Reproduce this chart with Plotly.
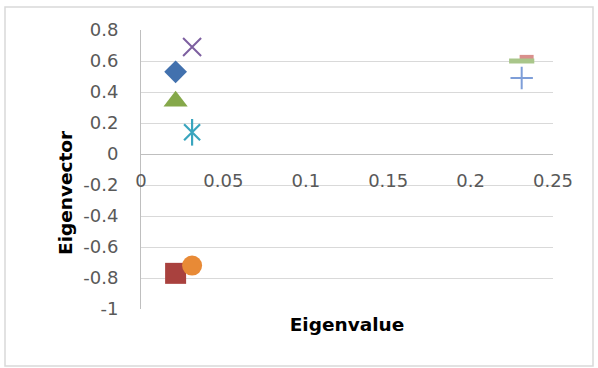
import plotly.graph_objects as go

# ---- data ----
series_names = ["S1", "S2", "S3", "S4", "S5", "S6", "S7", "S8", "S9"]
eigenvalues = [0.021, 0.021, 0.021, 0.031, 0.031, 0.031, 0.231, 0.234, 0.231]
eigenvectors = [0.53, -0.77, 0.34, 0.69, 0.14, -0.72, 0.49, 0.625, 0.60]

x_tick_vals = [0, 0.05, 0.1, 0.15, 0.2, 0.25]
x_tick_text = ["0", "0.05", "0.1", "0.15", "0.2", "0.25"]
y_tick_vals = [-1, -0.8, -0.6, -0.4, -0.2, 0, 0.2, 0.4, 0.6, 0.8]
y_tick_text = ["-1", "-0.8", "-0.6", "-0.4", "-0.2", "0", "0.2", "0.4", "0.6", "0.8"]

x_title = "Eigenvalue"
y_title = "Eigenvector"

# ---- styles ----
styles = [
    dict(symbol="diamond", size=17.5, color="#4271AE", line=None),
    dict(symbol="square", size=21, color="#A9413E", line=None),
    dict(symbol="triangle-up", size=21, color="#85A84A", line=None),
    dict(symbol="x-thin", size=18, color="#7D5FA0", line=2),
    dict(symbol="x-thin", size=16, color="#3AA5BE", line=2.2),   # star part 1
    dict(symbol="circle", size=20, color="#E88A36", line=None),
    dict(symbol="cross-thin", size=16, color="#7E9ED8", line=2),
    dict(symbol="line-ew", size=10, color="#D9908C", line=4.5),
    dict(symbol="line-ew", size=18, color="#A9C68A", line=5),
]

fig = go.Figure()
for i, name in enumerate(series_names):
    st = styles[i]
    if st["line"] is None:
        marker = dict(symbol=st["symbol"], size=st["size"], color=st["color"],
                      line=dict(width=0))
    else:
        marker = dict(symbol=st["symbol"], size=st["size"], color=st["color"],
                      line=dict(width=st["line"], color=st["color"]))
    fig.add_trace(go.Scatter(x=[eigenvalues[i]], y=[eigenvectors[i]], mode="markers",
                             name=name, marker=marker, showlegend=False))
    if i == 4:
        # vertical stroke of the asterisk (same series)
        fig.add_trace(go.Scatter(x=[eigenvalues[i]], y=[eigenvectors[i]], mode="markers",
                                 name=name, showlegend=False,
                                 marker=dict(symbol="line-ns", size=19, color=st["color"],
                                             line=dict(width=2.2, color=st["color"]))))

tick_font = dict(family="DejaVu Sans", size=18, color="#595959")
title_font = dict(family="DejaVu Sans", size=18.5, color="#000000")

y_min, y_max = -1, 0.8
fig.update_layout(
    width=598, height=368,
    margin=dict(l=141, r=45, t=30, b=59),
    paper_bgcolor="white", plot_bgcolor="white",
    showlegend=False,
    xaxis=dict(
        range=[0, 0.25], tickvals=x_tick_vals, ticktext=x_tick_text,
        showgrid=False, zeroline=False,
        showline=True, linecolor="#BFBFBF", linewidth=1,
        anchor="free", position=(0 - y_min) / (y_max - y_min),
        tickfont=tick_font, ticks="", ticklabelstandoff=10,
        title=dict(text="<b>" + x_title + "</b>", font=title_font, standoff=128),
    ),
    yaxis=dict(
        range=[y_min, y_max], tickvals=y_tick_vals, ticktext=y_tick_text,
        showgrid=True, gridcolor="#D9D9D9", gridwidth=1, zeroline=False,
        showline=True, linecolor="#BFBFBF", linewidth=1,
        tickfont=tick_font, ticks="", ticklabelstandoff=18,
    ),
    annotations=[dict(
        text="<b>" + y_title + "</b>", textangle=-90, font=title_font,
        xref="paper", yref="paper", x=(65 - 141) / 412, y=(309 - 193) / 279,
        xanchor="center", yanchor="middle", showarrow=False,
    )],
    shapes=[dict(
        type="rect", xref="paper", yref="paper",
        x0=(5 - 141) / 412, x1=(593 - 141) / 412,
        y0=(309 - 366) / 279, y1=(309 - 7) / 279,
        line=dict(color="#D9D9D9", width=1.5), fillcolor="rgba(0,0,0,0)", layer="below",
    )],
)

fig.write_html("out.html", config={"displayModeBar": False},
               post_script="document.body.style.margin='0px';document.body.style.overflow='hidden';")
